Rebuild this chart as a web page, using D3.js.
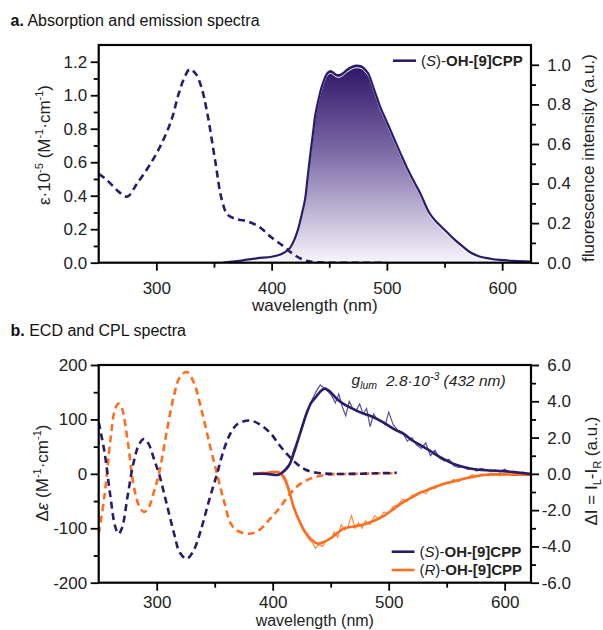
<!DOCTYPE html>
<html><head><meta charset="utf-8">
<script src="https://cdn.jsdelivr.net/npm/d3@7"></script>
<style>
body{margin:0;background:#fff;}
svg{display:block;font-family:"Liberation Sans",Arial,sans-serif;}
</style></head>
<body><svg id="c" width="603" height="630"></svg>
<script>
// ---------- data ----------
const xTicksMajor = [300,400,500,600];
const xTicksMinor = [350,450,550];
const absTicksMajor = [0,0.2,0.4,0.6,0.8,1.0,1.2];
const absTicksMinor = [0.1,0.3,0.5,0.7,0.9,1.1];
const flTicksMajor = [0,0.2,0.4,0.6,0.8,1.0];
const flTicksMinor = [0.1,0.3,0.5,0.7,0.9];
const ecdTicksMajor = [-200,-100,0,100,200];
const ecdTicksMinor = [-150,-50,50,150];
const cplTicksMajor = [-6,-4,-2,0,2,4,6];
const cplTicksMinor = [-5,-3,-1,1,3,5];

// absorption (epsilon*1e-5) [nm, value]
const absorption = [[250,0.53],[256,0.5],[262,0.46],[268,0.42],[275,0.395],[283,0.47],[293,0.57],[303,0.69],[313,0.85],[319,1.0],[324,1.1],[329,1.155],[334,1.13],[339,1.05],[344,0.9],[351,0.61],[357,0.37],[362,0.285],[370,0.26],[380,0.245],[390,0.21],[400,0.15],[410,0.1],[418,0.055],[425,0.025],[432,0.008],[440,0.002],[450,0],[475,0],[500,0]];
// emission (normalized)
const emission = [[358,0],[365,0.005],[375,0.012],[387,0.022],[400,0.03],[407,0.04],[412,0.055],[416,0.075],[420,0.12],[423,0.17],[426,0.24],[429,0.32],[431,0.42],[433,0.52],[436,0.66],[438,0.75],[440.5,0.82],[443,0.88],[445,0.915],[447,0.945],[449,0.962],[451,0.968],[453,0.963],[456,0.95],[459,0.948],[462,0.958],[465,0.973],[468,0.985],[472,0.995],[476,0.995],[479,0.988],[482,0.97],[484,0.955],[486,0.925],[488,0.89],[491,0.84],[494,0.79],[500,0.71],[506,0.63],[512,0.55],[517,0.485],[523,0.415],[529,0.35],[537,0.25],[544,0.2],[552,0.155],[559,0.115],[566,0.081],[573,0.05],[581,0.03],[590,0.02],[598,0.014],[610,0.009],[625,0.005]];
// ECD
const ecdS = [[250,95],[255,40],[260,-40],[264,-95],[267,-110],[270,-100],[275,-40],[280,20],[285,55],[289,64],[293,55],[298,25],[302,0],[308,-50],[315,-110],[320,-145],[326,-156],[332,-140],[338,-104],[345,-50],[352,0],[358,45],[364,76],[370,92],[380,98],[388,92],[398,75],[405,55],[412,37],[420,20],[428,8],[438,2],[450,0],[470,0],[490,1],[507,2]];
const ecdR = [[250,-110],[255,-40],[260,60],[264,118],[267,129],[270,120],[275,60],[280,-20],[285,-60],[289,-70],[293,-62],[298,-30],[302,0],[308,70],[315,145],[320,178],[326,187],[332,168],[338,123],[345,60],[352,0],[358,-50],[364,-92],[370,-105],[380,-110],[388,-104],[398,-82],[405,-65],[412,-45],[420,-25],[429,-12],[440,-4],[450,-1],[470,0],[490,1],[507,1]];
// CPL smoothed
const cplS = [[383,0],[395,0],[405,-0.05],[410,0.15],[414,0.45],[418,1.1],[421,1.7],[425,2.5],[429,3.3],[433,3.9],[438,4.3],[442,4.6],[445,4.7],[450,4.5],[455,4.15],[460,3.9],[467,3.65],[475,3.4],[484,3.2],[495,2.85],[505,2.45],[513,2.2],[520,1.85],[527,1.6],[535,1.3],[541,1.05],[548,0.8],[556,0.55],[563,0.4],[570,0.3],[584,0.2],[599,0.15],[610,0.08],[622,0.0]];
const cplR = [[383,0],[395,0.05],[405,0.1],[410,-0.2],[414,-0.9],[418,-1.8],[423,-2.6],[428,-3.2],[433,-3.6],[439,-3.85],[444,-3.75],[450,-3.55],[456,-3.25],[461,-3.02],[470,-2.9],[478,-2.8],[487,-2.6],[495,-2.35],[505,-1.9],[513,-1.55],[520,-1.3],[527,-1.05],[535,-0.85],[541,-0.7],[548,-0.55],[556,-0.42],[563,-0.3],[570,-0.2],[584,-0.05],[599,-0.03],[610,-0.04],[622,-0.05]];
// CPL raw
const cplSraw = [[383,0.0],[387,0.02],[391,-0.02],[395,0.0],[399,-0.05],[403,-0.08],[407,0.05],[411,0.3],[415,0.6],[418,1.3],[422,1.9],[426,2.8],[430,3.4],[434,4.1],[438,4.6],[441,4.9],[444,4.75],[447,4.6],[451,4.3],[454,3.9],[457,4.4],[460,3.7],[463,3.2],[466,4.0],[469,3.6],[472,3.5],[475,3.85],[478,3.3],[481,3.6],[484,2.6],[487,3.3],[490,3.0],[494,2.9],[497,2.7],[500,3.4],[504,2.7],[508,2.4],[512,2.3],[516,1.8],[520,2.0],[524,1.6],[528,1.4],[532,1.7],[536,1.0],[540,1.3],[544,0.85],[548,0.7],[552,0.8],[556,0.45],[560,0.35],[564,0.4],[568,0.25],[572,0.3],[576,0.15],[580,0.3],[584,0.2],[588,0.15],[592,0.2],[596,0.1],[600,0.25],[604,0.1],[608,0.15],[612,0.05],[616,0.1],[620,0.0]];
const cplRraw = [[383,0.0],[387,0.05],[391,0.1],[395,0.05],[399,0.15],[403,0.1],[407,0.0],[411,-0.5],[415,-1.2],[418,-1.9],[422,-2.5],[426,-3.1],[430,-3.5],[434,-3.8],[437,-4.1],[440,-3.9],[443,-4.0],[446,-3.7],[450,-3.6],[453,-3.2],[456,-3.5],[459,-2.8],[462,-3.1],[465,-2.9],[468,-2.3],[471,-3.0],[474,-2.7],[477,-3.0],[480,-2.6],[484,-2.8],[488,-2.3],[492,-2.5],[496,-2.1],[500,-2.2],[504,-1.8],[508,-1.7],[512,-1.4],[516,-1.5],[520,-1.2],[524,-1.1],[528,-0.95],[532,-1.1],[536,-0.75],[540,-0.8],[544,-0.6],[548,-0.5],[552,-0.55],[556,-0.3],[560,-0.45],[564,-0.25],[568,-0.2],[572,-0.05],[576,-0.15],[580,0.0],[584,-0.1],[588,0.05],[592,-0.05],[596,-0.1],[600,0.0],[604,-0.05],[608,-0.1],[612,-0.05],[616,-0.1],[620,-0.05]];

// ---------- styles ----------
const PURPLE = "#2c1b6b", ORANGE = "#ff6d1f";
const PURPLE_RAW = "#5d4d9c", ORANGE_RAW = "#ff8a45";
const FS = 17;

const svg = d3.select("#c");
const defs = svg.append("defs");
const grad = defs.append("linearGradient").attr("id","emg").attr("x1",0).attr("x2",0).attr("y1",0).attr("y2",1);
grad.append("stop").attr("offset","0%").attr("stop-color","#2e1466");
grad.append("stop").attr("offset","45%").attr("stop-color","#7e6ca8");
grad.append("stop").attr("offset","100%").attr("stop-color","#f7f5fb");

// ---------- panel a ----------
const A = {l:98.7, r:531, t:45, b:262.7};
const x1 = d3.scaleLinear().domain([250,625]).range([A.l,A.r]);
const yA = d3.scaleLinear().domain([0,1.3]).range([A.b,A.t]);
const yF = d3.scaleLinear().domain([0,1.1]).range([A.b,A.t]);

defs.append("clipPath").attr("id","clipA").append("rect").attr("x",A.l).attr("y",A.t).attr("width",A.r-A.l).attr("height",A.b-A.t);

const gA = svg.append("g").attr("clip-path","url(#clipA)");
const areaEm = d3.area().x(d=>x1(d[0])).y0(yF(0)).y1(d=>yF(d[1])).curve(d3.curveCatmullRom.alpha(0.5));
const lineEm = d3.line().x(d=>x1(d[0])).y(d=>yF(d[1])).curve(d3.curveCatmullRom.alpha(0.5));
grad.attr("gradientUnits","userSpaceOnUse").attr("y1",yF(1.0)).attr("y2",yF(0));
gA.append("path").datum(emission).attr("d",areaEm).attr("fill","url(#emg)");
gA.append("path").datum(emission).attr("d",lineEm).attr("fill","none").attr("stroke","#fff").attr("stroke-width",1).attr("transform","translate(0,2.2)");
gA.append("path").datum(emission).attr("d",lineEm).attr("fill","none").attr("stroke",PURPLE).attr("stroke-width",2.2);
const lineAbs = d3.line().x(d=>x1(d[0])).y(d=>yA(d[1])).curve(d3.curveCatmullRom.alpha(0.5));
gA.append("path").datum(absorption).attr("d",lineAbs).attr("fill","none").attr("stroke",PURPLE).attr("stroke-width",2.6).attr("stroke-dasharray","7,4.5");

function styleAxis(g){
  g.select(".domain").remove();
  g.selectAll("line").attr("stroke","#000").attr("stroke-width",1.8);
  g.selectAll("text").attr("font-size",FS).attr("fill","#222").attr("font-family","Liberation Sans, Arial, sans-serif");
}
function frame(P){
  svg.append("rect").attr("x",P.l).attr("y",P.t).attr("width",P.r-P.l).attr("height",P.b-P.t)
    .attr("fill","none").attr("stroke","#000").attr("stroke-width",2.2);
}
function axes(P, x, yl, yr, ylMaj, ylMin, yrMaj, yrMin, fl, fr, xpad){
  const gxb = svg.append("g").attr("transform",`translate(0,${P.b})`)
    .call(d3.axisBottom(x).tickValues(xTicksMajor).tickSize(8).tickPadding(xpad).tickFormat(d3.format("d")));
  styleAxis(gxb);
  const gxm = svg.append("g").attr("transform",`translate(0,${P.b})`)
    .call(d3.axisBottom(x).tickValues(xTicksMinor).tickSize(5).tickFormat(""));
  styleAxis(gxm);
  const gyl = svg.append("g").attr("transform",`translate(${P.l},0)`)
    .call(d3.axisLeft(yl).tickValues(ylMaj).tickSize(8).tickPadding(3.5).tickFormat(fl));
  styleAxis(gyl);
  const gylm = svg.append("g").attr("transform",`translate(${P.l},0)`)
    .call(d3.axisLeft(yl).tickValues(ylMin).tickSize(5).tickFormat(""));
  styleAxis(gylm);
  const gyr = svg.append("g").attr("transform",`translate(${P.r},0)`)
    .call(d3.axisRight(yr).tickValues(yrMaj).tickSize(8).tickFormat(fr));
  styleAxis(gyr);
  gyr.selectAll("text").attr("text-anchor","end").attr("x",40);
  const gyrm = svg.append("g").attr("transform",`translate(${P.r},0)`)
    .call(d3.axisRight(yr).tickValues(yrMin).tickSize(5).tickFormat(""));
  styleAxis(gyrm);
  frame(P);
}
axes(A, x1, yA, yF, absTicksMajor, absTicksMinor, flTicksMajor, flTicksMinor, d=>d.toFixed(1), d=>d.toFixed(1), 11);

// ---------- panel b ----------
const B = {l:98.7, r:531, t:365, b:582.7};
const x2 = d3.scaleLinear().domain([250,622.7]).range([B.l,B.r]);
const yE = d3.scaleLinear().domain([-200,200]).range([B.b,B.t]);
const yC = d3.scaleLinear().domain([-6,6]).range([B.b,B.t]);
defs.append("clipPath").attr("id","clipB").append("rect").attr("x",B.l).attr("y",B.t).attr("width",B.r-B.l).attr("height",B.b-B.t);
const gB = svg.append("g").attr("clip-path","url(#clipB)");
const lineE = d3.line().x(d=>x2(d[0])).y(d=>yE(d[1])).curve(d3.curveCatmullRom.alpha(0.5));
const lineC = d3.line().x(d=>x2(d[0])).y(d=>yC(d[1])).curve(d3.curveCatmullRom.alpha(0.5));
const lineRaw = d3.line().x(d=>x2(d[0])).y(d=>yC(d[1]));
gB.append("path").datum(ecdR).attr("d",lineE).attr("fill","none").attr("stroke",ORANGE).attr("stroke-width",2.6).attr("stroke-dasharray","7,4.5");
gB.append("path").datum(ecdS).attr("d",lineE).attr("fill","none").attr("stroke",PURPLE).attr("stroke-width",2.6).attr("stroke-dasharray","7,4.5");
gB.append("path").datum(cplRraw).attr("d",lineRaw).attr("fill","none").attr("stroke",ORANGE_RAW).attr("stroke-width",1.2);
gB.append("path").datum(cplSraw).attr("d",lineRaw).attr("fill","none").attr("stroke",PURPLE_RAW).attr("stroke-width",1.2);
gB.append("path").datum(cplR).attr("d",lineC).attr("fill","none").attr("stroke",ORANGE).attr("stroke-width",2.6);
gB.append("path").datum(cplS).attr("d",lineC).attr("fill","none").attr("stroke",PURPLE).attr("stroke-width",2.6);

axes(B, x2, yE, yC, ecdTicksMajor, ecdTicksMinor, cplTicksMajor, cplTicksMinor, d=>String(d), d=>d.toFixed(1), 5);

// ---------- texts ----------
function txt(x,y,opts={}){
  const t = svg.append("text").attr("x",x).attr("y",y).attr("font-size",opts.fs||FS).attr("fill","#222");
  if(opts.anchor) t.attr("text-anchor",opts.anchor);
  if(opts.rot) t.attr("transform",`rotate(-90,${x},${y})`);
  return t;
}
function add(t, s, o={}){
  const ts = t.append("tspan").text(s);
  if(o.b) ts.attr("font-weight","bold");
  if(o.i) ts.attr("font-style","italic");
  if(o.fs) ts.attr("font-size",o.fs);
  if(o.dy) ts.attr("dy",o.dy);
  return ts;
}
// titles
let t = txt(10.5,26,{fs:16}); t.attr("fill","#111"); add(t,"a.",{b:1}); add(t," Absorption and emission spectra");
t = txt(10.5,336,{fs:16}); t.attr("fill","#111"); add(t,"b.",{b:1}); add(t," ECD and CPL spectra");
// x labels
txt(314.8,311,{anchor:"middle"}).text("wavelength (nm)");
txt(314.8,626.2,{anchor:"middle",fs:16}).text("wavelength (nm)");
// panel a y labels
t = txt(50,145,{anchor:"middle",rot:1});
add(t,"ε·10"); add(t,"-5",{fs:11,dy:-7}); add(t," (M",{dy:7}); add(t,"-1",{fs:11,dy:-7}); add(t,"·cm",{dy:7}); add(t,"-1",{fs:11,dy:-7}); add(t,")",{dy:7});
txt(594,158,{anchor:"middle",rot:1}).text("fluorescence intensity (a.u.)");
// panel b y labels
t = txt(48,473,{anchor:"middle",rot:1});
add(t,"Δ"); add(t,"ε",{i:1}); add(t," (M"); add(t,"-1",{fs:11,dy:-7}); add(t,"·cm",{dy:7}); add(t,"-1",{fs:11,dy:-7}); add(t,")",{dy:7});
t = txt(597,471,{anchor:"middle",rot:1});
add(t,"ΔI = I"); add(t,"L",{fs:11,dy:4}); add(t,"-I",{dy:-4}); add(t,"R",{fs:11,dy:4}); add(t," (a.u.)",{dy:-4});
// g_lum annotation
t = txt(351.5,385,{fs:15.5}); add(t,"g",{i:1}); add(t,"lum",{i:1,fs:10.5,dy:4});
t = txt(386,386,{fs:15.5}); add(t,"2.8·10",{i:1}); add(t,"-3",{i:1,fs:10.5,dy:-6}); add(t," (432 nm)",{i:1,dy:6});

// legends
function legend(x1p,x2p,y,color,label){
  svg.append("line").attr("x1",x1p).attr("x2",x2p).attr("y1",y).attr("y2",y).attr("stroke",color).attr("stroke-width",2.6);
  const tt = txt(x2p+5,y+5.3,{fs:15});
  add(tt,"("); add(tt,label,{i:1}); add(tt,")-"); add(tt,"OH-[9]CPP",{b:1});
}
legend(393,416,60.7,PURPLE,"S");
legend(391.7,414.5,551.7,PURPLE,"S");
legend(391.7,414.5,570,ORANGE,"R");
</script></body></html>
